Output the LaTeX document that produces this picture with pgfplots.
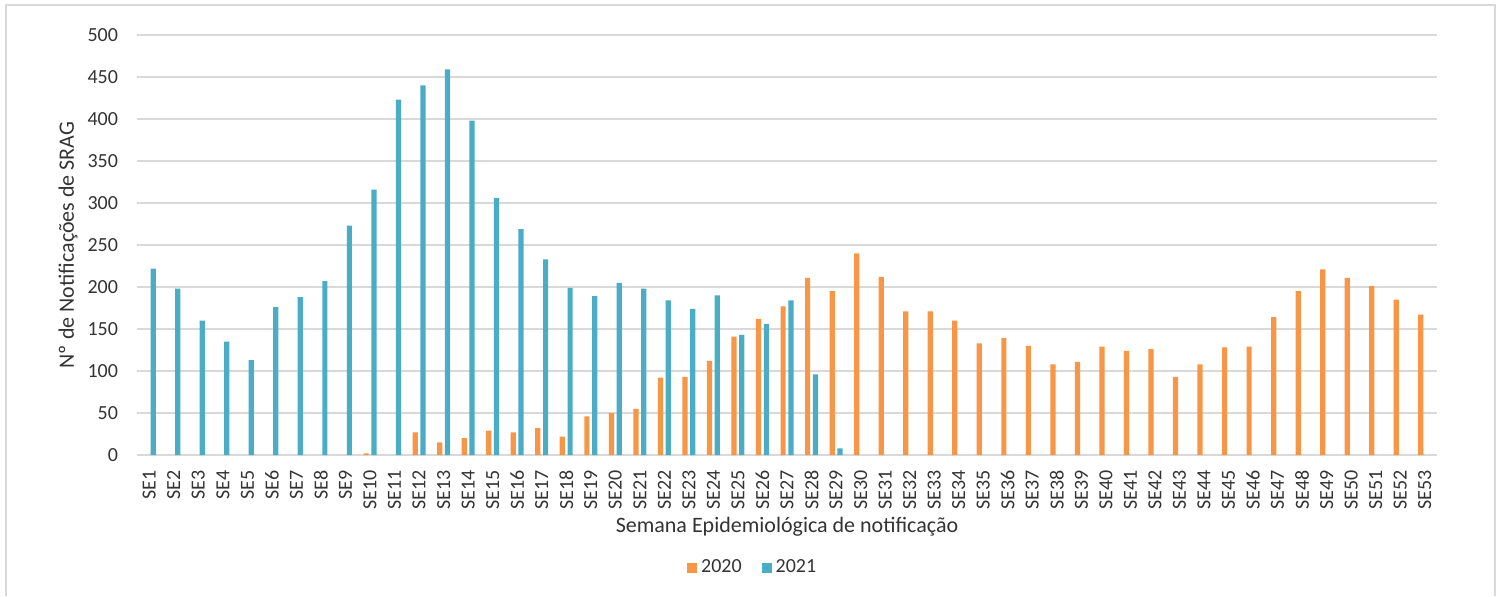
\documentclass[border=0pt]{standalone}
\usepackage{pgfplots}
\pgfplotsset{compat=1.18}
\usepackage{fontspec}
\setmainfont{Carlito}
\definecolor{c2020}{HTML}{F79646}
\definecolor{c2021}{HTML}{4BACC6}
\definecolor{gridc}{HTML}{D9D9D9}
\definecolor{txt}{HTML}{333333}
\begin{document}
\begin{tikzpicture}
\useasboundingbox (0,0) rectangle (750.5pt,298pt);
\draw[gridc, line width=1pt] (2.85pt,0) -- (2.85pt,295.5pt) -- (747.5pt,295.5pt) -- (747.5pt,0);
\begin{axis}[
  at={(68.5pt,70.5pt)}, anchor=south west,
  scale only axis, width=650pt, height=210pt,
  ybar=1.3pt, bar width=2.6pt,
  xmin=0.5, xmax=53.5, ymin=0, ymax=500,
  ytick={0,50,...,500},
  xtick={1,...,53},
  xticklabels={SE1,SE2,SE3,SE4,SE5,SE6,SE7,SE8,SE9,SE10,SE11,SE12,SE13,SE14,SE15,SE16,SE17,SE18,SE19,SE20,SE21,SE22,SE23,SE24,SE25,SE26,SE27,SE28,SE29,SE30,SE31,SE32,SE33,SE34,SE35,SE36,SE37,SE38,SE39,SE40,SE41,SE42,SE43,SE44,SE45,SE46,SE47,SE48,SE49,SE50,SE51,SE52,SE53},
  /pgf/number format/assume math mode=true,
  axis line style={draw=none},
  tick style={draw=none},
  ymajorgrids,
  major grid style={color=gridc, line width=0.8pt},
  ticklabel style={font=\fontsize{10}{12}\selectfont, text=txt},
  xticklabel style={rotate=90, anchor=east},
  yticklabel style={xshift=-6pt},
  xlabel={Semana Epidemiológica de notificação},
  ylabel={Nº de Notificações de SRAG},
  xlabel style={at={(axis description cs:0.5,-0.1714)}, anchor=center, font=\fontsize{11}{13}\selectfont, text=txt},
  ylabel style={at={(axis description cs:-0.0531,0.5)}, anchor=center, font=\fontsize{11}{13}\selectfont, text=txt},
  legend style={at={(axis description cs:0.4744,-0.269)}, anchor=center, draw=none, fill=none,
    font=\fontsize{10}{12}\selectfont, text=txt, legend columns=2,
    /tikz/every even column/.append style={column sep=8pt}},
  legend image code/.code={\fill[#1] (0pt,-2.5pt) rectangle (5pt,2.5pt);},
]
\addplot[fill=c2020, draw=none] coordinates {
(10,2) (12,27) (13,15) (14,20) (15,29) (16,27) (17,32) (18,22) (19,46) (20,50)
(21,55) (22,92) (23,93) (24,112) (25,141) (26,162) (27,177) (28,211) (29,195) (30,240)
(31,212) (32,171) (33,171) (34,160) (35,133) (36,139) (37,130) (38,108) (39,111) (40,129)
(41,124) (42,126) (43,93) (44,108) (45,128) (46,129) (47,164) (48,195) (49,221) (50,211)
(51,201) (52,185) (53,167)
};
\addplot[fill=c2021, draw=none] coordinates {
(1,222) (2,198) (3,160) (4,135) (5,113) (6,176) (7,188) (8,207) (9,273) (10,316)
(11,423) (12,440) (13,459) (14,398) (15,306) (16,269) (17,233) (18,199) (19,189) (20,205)
(21,198) (22,184) (23,174) (24,190) (25,143) (26,156) (27,184) (28,96) (29,8)
};
\legend{2020,2021}
\end{axis}
\end{tikzpicture}
\end{document}
